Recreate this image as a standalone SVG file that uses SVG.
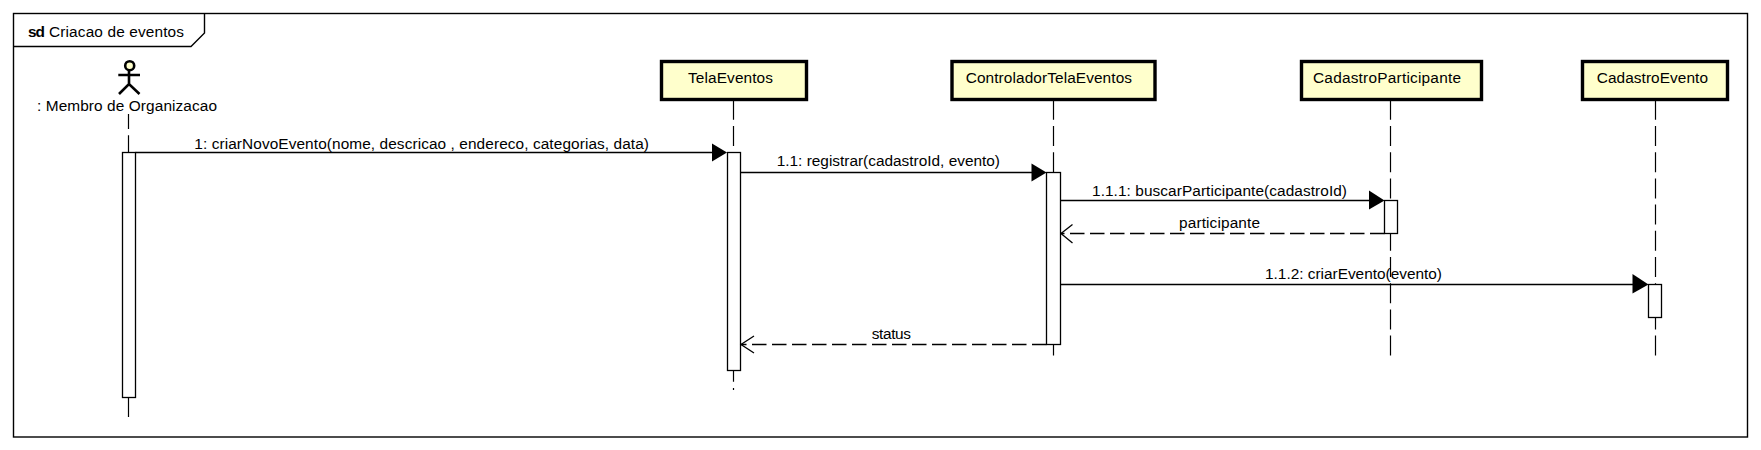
<svg xmlns="http://www.w3.org/2000/svg" width="1761" height="450" viewBox="0 0 1761 450">
<style>
text{font-family:"Liberation Sans",Arial,sans-serif;font-size:15.4px;fill:#000}
.b{font-weight:bold}
.frame{fill:none;stroke:#000;stroke-width:1.4}
.box{fill:#ffffcc;stroke:#000;stroke-width:3.4}
.life{fill:none;stroke:#000;stroke-width:1.2;stroke-dasharray:20 6.2}
.act{fill:#fff;stroke:#000;stroke-width:1.3}
.msg{fill:none;stroke:#000;stroke-width:1.4}
.ret{fill:none;stroke:#000;stroke-width:1.4;stroke-dasharray:14.5 5.5}
.open{fill:none;stroke:#000;stroke-width:1.3}
.actor{fill:none;stroke:#000;stroke-width:2.6}
</style>
<rect width="1761" height="450" fill="#fff"/>
<g id="frame">
<rect class="frame" x="13.5" y="13.5" width="1734" height="423.5"/>
<path class="frame" d="M13.5 46.5H191L204.5 33V13.5"/>
<text class="b" x="28" y="36.5" textLength="17">sd</text>
<text x="49" y="36.5" textLength="135">Criacao de eventos</text>
</g>
<g id="lifelines">
<path class="life" d="M128.5 114V417" stroke-dashoffset="5"/>
<path class="life" d="M733.5 99.8V390"/>
<path class="life" d="M1053.5 99.8V357"/>
<path class="life" d="M1390.5 99.8V357"/>
<path class="life" d="M1655.5 99.8V357"/>
</g>
<g id="actor-membro">
<circle cx="129.7" cy="65.7" r="4.5" fill="#ffffcc" stroke="#000" stroke-width="2.6"/>
<path class="actor" d="M129 71V84M118.3 75H140M119 94L129 84L139.5 94"/>
<text x="37" y="110.5" textLength="180">: Membro de Organizacao</text>
</g>
<g id="tela-eventos">
<rect class="box" x="661.5" y="61.5" width="145" height="38"/>
<text x="688" y="82.5" textLength="85">TelaEventos</text>
<rect class="act" x="727.5" y="152.5" width="13" height="218"/>
</g>
<g id="controlador-tela-eventos">
<rect class="box" x="952" y="61.5" width="203" height="38"/>
<text x="965.7" y="82.5" textLength="166.3">ControladorTelaEventos</text>
<rect class="act" x="1046.5" y="172.5" width="14" height="172"/>
</g>
<g id="cadastro-participante">
<rect class="box" x="1301.5" y="61.5" width="180" height="38"/>
<text x="1313" y="82.5" textLength="148">CadastroParticipante</text>
<rect class="act" x="1384.5" y="200.5" width="13" height="33"/>
</g>
<g id="cadastro-evento">
<rect class="box" x="1582.5" y="61.5" width="145" height="38"/>
<text x="1596.7" y="82.5" textLength="111.3">CadastroEvento</text>
<rect class="act" x="1648.5" y="284.5" width="13" height="33"/>
</g>
<g id="actor-activation"><rect class="act" x="122.5" y="152.5" width="13" height="245"/></g>
<g id="connectors">
<path class="msg" d="M135.5 152.5H713"/><path d="M712 143.5L727 152.5L712 161.5Z"/>
<path class="msg" d="M740.5 172.5H1033"/><path d="M1031.5 163.5L1046.5 172.5L1031.5 181.5Z"/>
<path class="msg" d="M1060.5 200.5H1370"/><path d="M1369 190.5L1384.5 200.5L1369 209.5Z"/>
<path class="ret" d="M1384.5 233.5H1061"/><path class="open" d="M1072.5 224.5L1061 233.5L1072.5 243"/>
<path class="msg" d="M1060.5 284.5H1634"/><path d="M1632.5 274L1648.5 284.5L1632.5 293.5Z"/>
<path class="ret" d="M1046.5 344.5H741"/><path class="open" d="M754 336L741 344.5L754 353"/>
<text x="194.3" y="148.5" textLength="454.7">1: criarNovoEvento(nome, descricao , endereco, categorias, data)</text>
<text x="776.7" y="166" textLength="223.3">1.1: registrar(cadastroId, evento)</text>
<text x="1092" y="196" textLength="255">1.1.1: buscarParticipante(cadastroId)</text>
<text x="1179" y="228" textLength="81">participante</text>
<text x="1265" y="279" textLength="177">1.1.2: criarEvento(evento)</text>
<text x="871.7" y="339" textLength="39.3">status</text>
</g>
</svg>
